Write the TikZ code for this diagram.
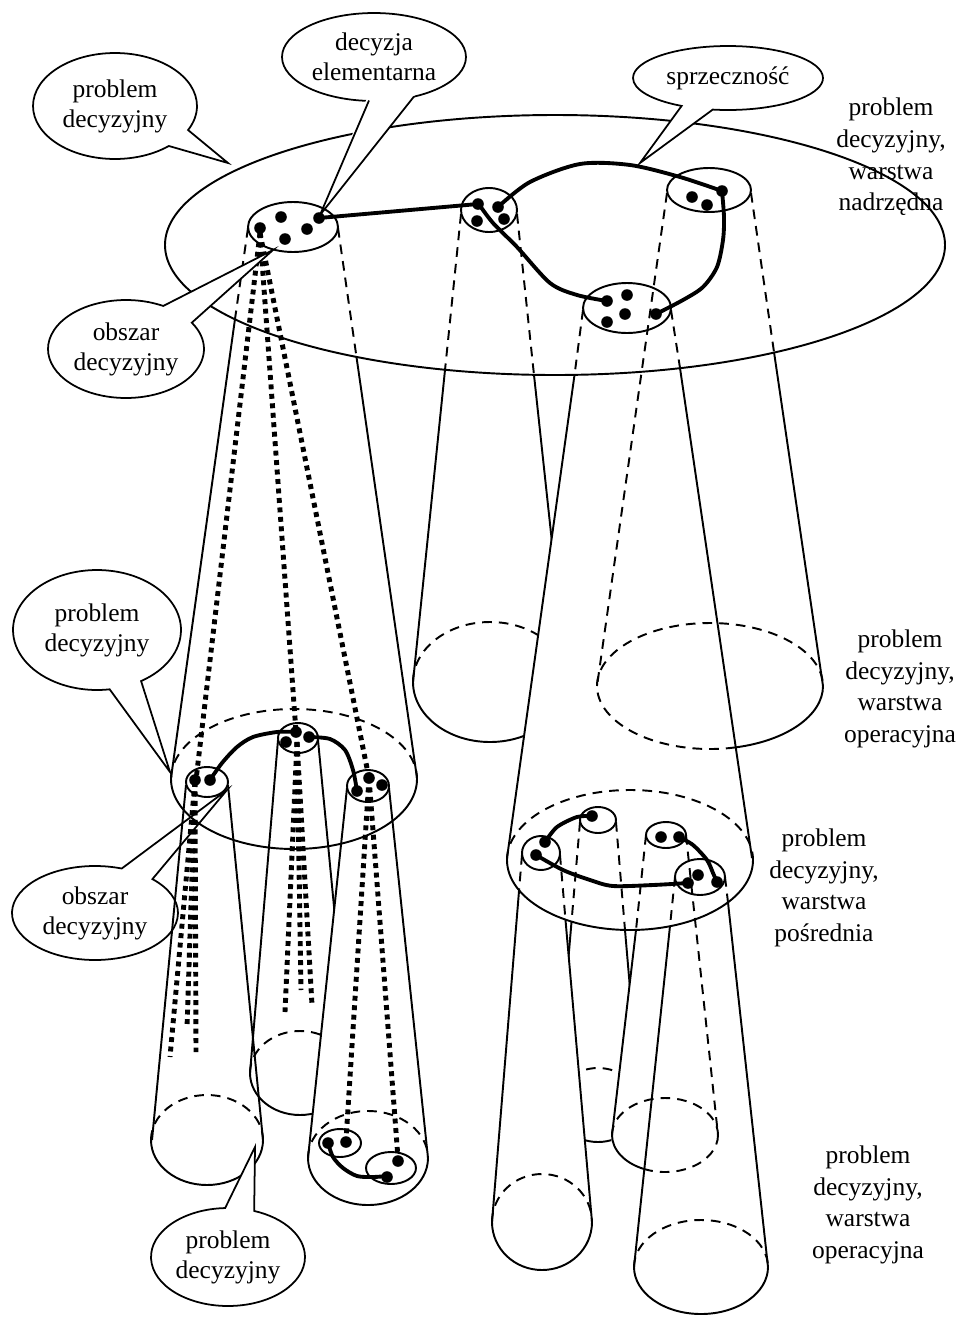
\documentclass[tikz,border=0pt]{standalone}
\usepackage{fontspec}
\setmainfont{Liberation Serif}
\usetikzlibrary{shapes.callouts,shapes.geometric}
\newcommand{\callfont}{\fontsize{14.5}{17}\selectfont}
\newcommand{\layerfont}{\fontsize{14.5}{18}\selectfont}
\begin{document}
\begin{tikzpicture}[x=0.02cm, y=-0.02cm, line width=1.1pt,
  hid/.style={dash pattern=on 5.5pt off 4pt},
  link/.style={line width=2.2pt, line cap=round},
  trace/.style={line width=2.8pt, dash pattern=on 2.8pt off 2.6pt},
  bubble/.style={ellipse callout, draw, line width=1pt, align=center, inner sep=0pt, font=\callfont},
  layer/.style={align=center, font=\layerfont}]
\useasboundingbox (0,0) rectangle (963,1319);

% warstwa nadrzedna
\draw (555,245) ellipse [x radius=390, y radius=130];
\foreach \cx/\cy/\rx/\ry in {293/227/45/25, 489/210/28/22, 709/190/42/22, 627/308/44/25,
    207/782/21/15, 298/738/20/15, 368/786/21/16,
    541/853/19/17, 598/820/18/13, 666/835/20/13, 700/877/25/18,
    340/1143/21/14, 391/1168/25/16}
  \draw (\cx,\cy) ellipse [x radius=\rx, y radius=\ry];

% tworzace: ukryte, potem widoczne
\foreach \xa/\ya/\xb/\yb/\xc/\yc in {248/228/235/319/171/778, 338/228/356.5/357/417/778,
    461/214/445/370/413/682, 751/193/774/352/823/686,
    583/310/574.5/375/507/858, 671/310/680/368/752/858,
    522/855/519/891/492/1222, 560/855/565.5/920/592/1222,
    646/835/636/930/612/1135, 675/877/670/926/634/1267, 725/877/728/902.5/768/1267} {
  \draw[hid] (\xa,\ya) -- (\xb,\yb);
  \draw (\xb,\yb) -- (\xc,\yc);
}
\draw[hid] (667,193) -- (597,686);
\draw[hid] (686,835) -- (718,1135);
\draw (186,785) -- (152,1140);
\draw (228,785) -- (263,1140);
\draw (278,740) -- (250,1073);
\draw (347,788) -- (308,1158);
\draw (389,788) -- (428,1158);

% podstawy
\foreach \cx/\cy/\rx/\ry in {294/779/123/70, 630/860/123/70, 207/1140/56/45, 368/1158/60/47,
    542/1222/50/48, 701/1267/67/47} {
  \draw[hid] (\cx,\cy) ++(-\rx,0) arc[start angle=180, end angle=360, x radius=\rx, y radius=\ry];
  \draw (\cx,\cy) ++(\rx,0) arc[start angle=0, end angle=180, x radius=\rx, y radius=\ry];
}
\draw[hid] (710,686) ++(-113,0) arc[start angle=180, end angle=360, x radius=113, y radius=63];
\draw[hid] (710,686) ++(77:113 and 63) arc[start angle=77, end angle=180, x radius=113, y radius=63];
\draw (710,686) ++(113,0) arc[start angle=0, end angle=77, x radius=113, y radius=63];
\draw[hid] (665,1135) ++(-53,0) arc[start angle=180, end angle=360, x radius=53, y radius=37];
\draw[hid] (665,1135) ++(53,0) arc[start angle=0, end angle=113, x radius=53, y radius=37];
\draw (665,1135) ++(113:53 and 37) arc[start angle=113, end angle=180, x radius=53, y radius=37];

\begin{scope}
  \clip (0,200) -- (598.3,200) -- (501.2,900) -- (0,900) -- cycle;
  \draw[hid] (517,214) -- (534,375);
  \draw (534,375) -- (567,682);
  \draw[hid] (490,682) ++(-77,0) arc[start angle=180, end angle=360, x radius=77, y radius=60];
  \draw (490,682) ++(77,0) arc[start angle=0, end angle=180, x radius=77, y radius=60];
\end{scope}
\begin{scope}
  \clip (0,700) -- (356.3,700) -- (303.6,1200) -- (0,1200) -- cycle;
  \draw (318,740) -- (350,1073);
  \draw[hid] (300,1073) ++(-50,0) arc[start angle=180, end angle=360, x radius=50, y radius=42];
  \draw (300,1073) ++(50,0) arc[start angle=0, end angle=180, x radius=50, y radius=42];
\end{scope}
\begin{scope}
  \clip (555.2,800) -- (650,800) -- (604.6,1200) -- (590.1,1200) -- cycle;
  \draw[hid] (580,822) -- (571.5,922);
  \draw (571.5,922) -- (556,1105);
  \draw[hid] (616,822) -- (625,930);
  \draw (625,930) -- (640,1105);
  \draw[hid] (598,1105) ++(-42,0) arc[start angle=180, end angle=360, x radius=42, y radius=37];
  \draw (598,1105) ++(42,0) arc[start angle=0, end angle=180, x radius=42, y radius=37];
\end{scope}

% sciezki decyzji
\foreach \x/\y in {196/780, 296/732, 369/778} {\draw[trace] (260,233) -- (\x,\y);}
\foreach \x/\y in {170/1057, 187/1028, 196/1052} {\draw[trace] (195,782) -- (\x,\y);}
\foreach \x/\y in {285/1012, 301/990, 312/1005} {\draw[trace] (297,742) -- (\x,\y);}
\foreach \x/\y in {346/1140, 398/1158} {\draw[trace] (369,778) -- (\x,\y);}

\draw[link] (319,218) -- (478,204);
\draw[link] plot[smooth] coordinates {(498,207) (530,182) (580,164) (630,165) (680,177) (722,191)};
\draw[link] plot[smooth] coordinates {(478,203) (493,223) (517,247) (550,283) (577,295) (607,301)};
\draw[link] plot[smooth] coordinates {(722,191) (724,217) (723,240) (717,267) (703,287) (683,300) (656,314)};
\draw[link] plot[smooth] coordinates {(210,780) (222,763) (237,747) (253,737) (277,732) (296,732)};
\draw[link] plot[smooth] coordinates {(309,737) (330,739) (345,750) (353,770) (357,791)};
\draw[link] plot[smooth] coordinates {(545,842) (557,827) (577,817) (592,816)};
\draw[link] plot[smooth] coordinates {(536,855) (563,870) (590,880) (613,886) (653,885) (688,883)};
\draw[link] plot[smooth] coordinates {(679,837) (693,845) (707,860) (713,873) (717,882)};
\draw[link] plot[smooth] coordinates {(328,1143) (333,1157) (343,1168) (357,1176) (373,1177) (387,1176)};

\foreach \x/\y in {260/228, 281/217, 285/239, 307/229, 319/218,
    478/204, 498/207, 477/221, 504/219, 692/197, 707/205, 722/191,
    607/301, 627/295, 607/322, 625/314, 656/314,
    195/780, 210/780, 296/732, 286/742, 309/737, 357/791, 369/778, 382/785,
    545/842, 536/855, 592/816, 661/837, 679/837, 688/883, 698/875, 717/882,
    328/1143, 346/1142, 398/1161, 387/1177}
  \fill (\x,\y) circle [radius=5.8];

% objasnienia
\node[bubble, fill=white, minimum width=3.28cm, minimum height=2.12cm, callout absolute pointer={(228,163)}, callout pointer arc=22] (pdtop) at (115,106) {problem\\decyzyjny};
\node[ellipse, draw, fill=white, line width=1pt, inner sep=0pt, align=center, font=\callfont, minimum width=3.68cm, minimum height=1.76cm] (elem) at (374,57) {decyzja\\elementarna};
\coordinate (elemtip) at (320,215);
\fill[white] (367,98) -- (elemtip) -- (416,93.5) -- cycle;
\draw[line width=1pt] (369,100.5) -- (elemtip) -- (414,96.5);
\node[bubble, fill=white, minimum width=3.8cm, minimum height=1.28cm, callout absolute pointer={(640,163)}, callout pointer arc=20] (sprz) at (728,78) {sprzeczność};
\node[bubble, fill=white, minimum width=3.12cm, minimum height=1.96cm, callout absolute pointer={(273,250)}, callout pointer arc=29] (obtop) at (126,349) {obszar\\decyzyjny};
\node[bubble, minimum width=3.36cm, minimum height=2.4cm, callout absolute pointer={(170,772)}, callout pointer arc=23] (pdmid) at (97,630) {problem\\decyzyjny};
\node[bubble, minimum width=3.32cm, minimum height=1.88cm, callout absolute pointer={(227,790)}, callout pointer arc=25] (obmid) at (95,913) {obszar\\decyzyjny};
\node[bubble, fill=white, minimum width=3.08cm, minimum height=1.96cm, callout absolute pointer={(255,1147)}, callout pointer arc=22] (pdbot) at (228,1257) {problem\\decyzyjny};

\node[layer] (nadrz) at (891,157) {problem\\decyzyjny,\\warstwa\\nadrzędna};
\node[layer] (oper1) at (900,689) {problem\\decyzyjny,\\warstwa\\operacyjna};
\node[layer] (posr) at (824,888) {problem\\decyzyjny,\\warstwa\\pośrednia};
\node[layer] (oper2) at (868,1205) {problem\\decyzyjny,\\warstwa\\operacyjna};
\end{tikzpicture}
\end{document}
